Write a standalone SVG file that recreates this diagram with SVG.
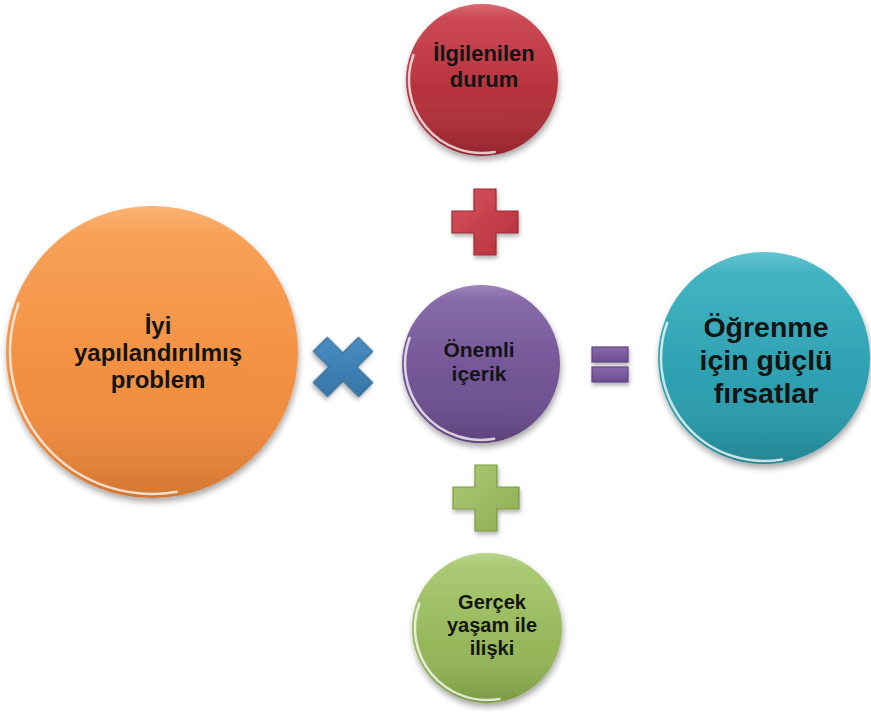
<svg xmlns="http://www.w3.org/2000/svg" width="871" height="712" viewBox="0 0 871 712">
<style>
.lbl{font-family:"Liberation Sans",Arial,sans-serif;font-weight:700;fill:#141414;text-anchor:middle}
.rim{fill:none;stroke:#ffffff;stroke-opacity:0.75;stroke-width:2.5;stroke-linecap:round}
.gloss{fill:url(#gloss)}
.ball{filter:url(#shadow)}
.op{filter:url(#opshadow);stroke-width:1.2}
</style>
<defs>
<filter id="shadow" x="-20%" y="-20%" width="140%" height="150%">
<feDropShadow dx="1" dy="4" stdDeviation="3" flood-color="#000" flood-opacity="0.35"/>
</filter>
<filter id="opshadow" x="-30%" y="-30%" width="160%" height="160%">
<feDropShadow dx="1" dy="3" stdDeviation="2" flood-color="#000" flood-opacity="0.3"/>
</filter>
<linearGradient id="gloss" x1="0" y1="0" x2="0" y2="1">
<stop offset="0" stop-color="#fff" stop-opacity="0.22"/>
<stop offset="0.1" stop-color="#fff" stop-opacity="0.06"/>
<stop offset="0.6" stop-color="#fff" stop-opacity="0"/>
<stop offset="1" stop-color="#000" stop-opacity="0.12"/>
</linearGradient>
<linearGradient id="gRed" x1="0" y1="0" x2="0" y2="1"><stop offset="0" stop-color="#CC404B"/><stop offset="1" stop-color="#A62832"/></linearGradient>
<linearGradient id="gOrange" x1="0" y1="0" x2="0" y2="1"><stop offset="0" stop-color="#F99E4F"/><stop offset="1" stop-color="#EE8536"/></linearGradient>
<linearGradient id="gPurple" x1="0" y1="0" x2="0" y2="1"><stop offset="0" stop-color="#8263A7"/><stop offset="1" stop-color="#674A89"/></linearGradient>
<linearGradient id="gTeal" x1="0" y1="0" x2="0" y2="1"><stop offset="0" stop-color="#38B2C3"/><stop offset="1" stop-color="#2594A4"/></linearGradient>
<linearGradient id="gGreen" x1="0" y1="0" x2="0" y2="1"><stop offset="0" stop-color="#A7C86E"/><stop offset="1" stop-color="#8BAC4C"/></linearGradient>
<linearGradient id="oRed" x1="0" y1="0" x2="1" y2="1"><stop offset="0" stop-color="#D9535D"/><stop offset="1" stop-color="#B3303A"/></linearGradient>
<linearGradient id="oGreen" x1="0" y1="0" x2="1" y2="1"><stop offset="0" stop-color="#AECB77"/><stop offset="1" stop-color="#8CAB4E"/></linearGradient>
<linearGradient id="oBlue" x1="0" y1="0" x2="1" y2="1"><stop offset="0" stop-color="#4D93C9"/><stop offset="1" stop-color="#336F9F"/></linearGradient>
<linearGradient id="oPurple" x1="0" y1="0" x2="0" y2="1"><stop offset="0" stop-color="#8A6AAE"/><stop offset="1" stop-color="#6C4E8E"/></linearGradient>
</defs>
<rect width="871" height="712" fill="#ffffff"/>

<g id="connectors">
<path id="plus-top" class="op" fill="url(#oRed)" stroke="#9E2A33" d="M474,189 H496 V211 H518 V233 H496 V255 H474 V233 H452 V211 H474 Z"/>
<path id="plus-bottom" class="op" fill="url(#oGreen)" stroke="#7D9B44" d="M475,465 H497 V487 H519 V509 H497 V531 H475 V509 H453 V487 H475 Z"/>
<path id="times" class="op" fill="url(#oBlue)" stroke="#2F6691" transform="translate(343,367) rotate(45)" d="M-10,-32 H10 V-10 H32 V10 H10 V32 H-10 V10 H-32 V-10 H-10 Z"/>
<g id="equals" class="op" fill="url(#oPurple)" stroke="#5E437E">
<rect x="592" y="347" width="36" height="15"/>
<rect x="592" y="367" width="36" height="15"/>
</g>
</g>

<g id="node-ilgilenilen">
<circle class="ball" cx="482" cy="80" r="76" fill="url(#gRed)"/>
<circle class="gloss" cx="482" cy="80" r="76"/>
<path class="rim" d="M494.7,151.9 A73,73 0 0 1 413.4,55"/>
<text class="lbl" font-size="22"><tspan x="484" y="61">İlgilenilen</tspan><tspan x="484" y="87">durum</tspan></text>
</g>

<g id="node-iyi">
<circle class="ball" cx="152" cy="352" r="146" fill="url(#gOrange)"/>
<circle class="gloss" cx="152" cy="352" r="146"/>
<path class="rim" d="M176.7,491.8 A142,142 0 0 1 18.6,303.4"/>
<text class="lbl" font-size="24"><tspan x="158" y="334">İyi</tspan><tspan x="158" y="361">yapılandırılmış</tspan><tspan x="158" y="388">problem</tspan></text>
</g>

<g id="node-onemli">
<circle class="ball" cx="481" cy="364" r="79" fill="url(#gPurple)"/>
<circle class="gloss" cx="481" cy="364" r="79"/>
<path class="rim" d="M494.2,438.8 A76,76 0 0 1 409.6,338"/>
<text class="lbl" font-size="21"><tspan x="479" y="357">Önemli</tspan><tspan x="479" y="381">içerik</tspan></text>
</g>

<g id="node-ogrenme">
<circle class="ball" cx="764" cy="358" r="106" fill="url(#gTeal)"/>
<circle class="gloss" cx="764" cy="358" r="106"/>
<path class="rim" d="M781.9,459.4 A103,103 0 0 1 667.2,322.8"/>
<text class="lbl" font-size="28.5"><tspan x="766" y="337">Öğrenme</tspan><tspan x="766" y="370">için güçlü</tspan><tspan x="766" y="403">fırsatlar</tspan></text>
</g>

<g id="node-gercek">
<circle class="ball" cx="487" cy="628" r="75" fill="url(#gGreen)"/>
<circle class="gloss" cx="487" cy="628" r="75"/>
<path class="rim" d="M499.5,698.9 A72,72 0 0 1 419.3,603.4"/>
<text class="lbl" font-size="20"><tspan x="492" y="609">Gerçek</tspan><tspan x="492" y="632">yaşam ile</tspan><tspan x="492" y="655">ilişki</tspan></text>
</g>
</svg>
